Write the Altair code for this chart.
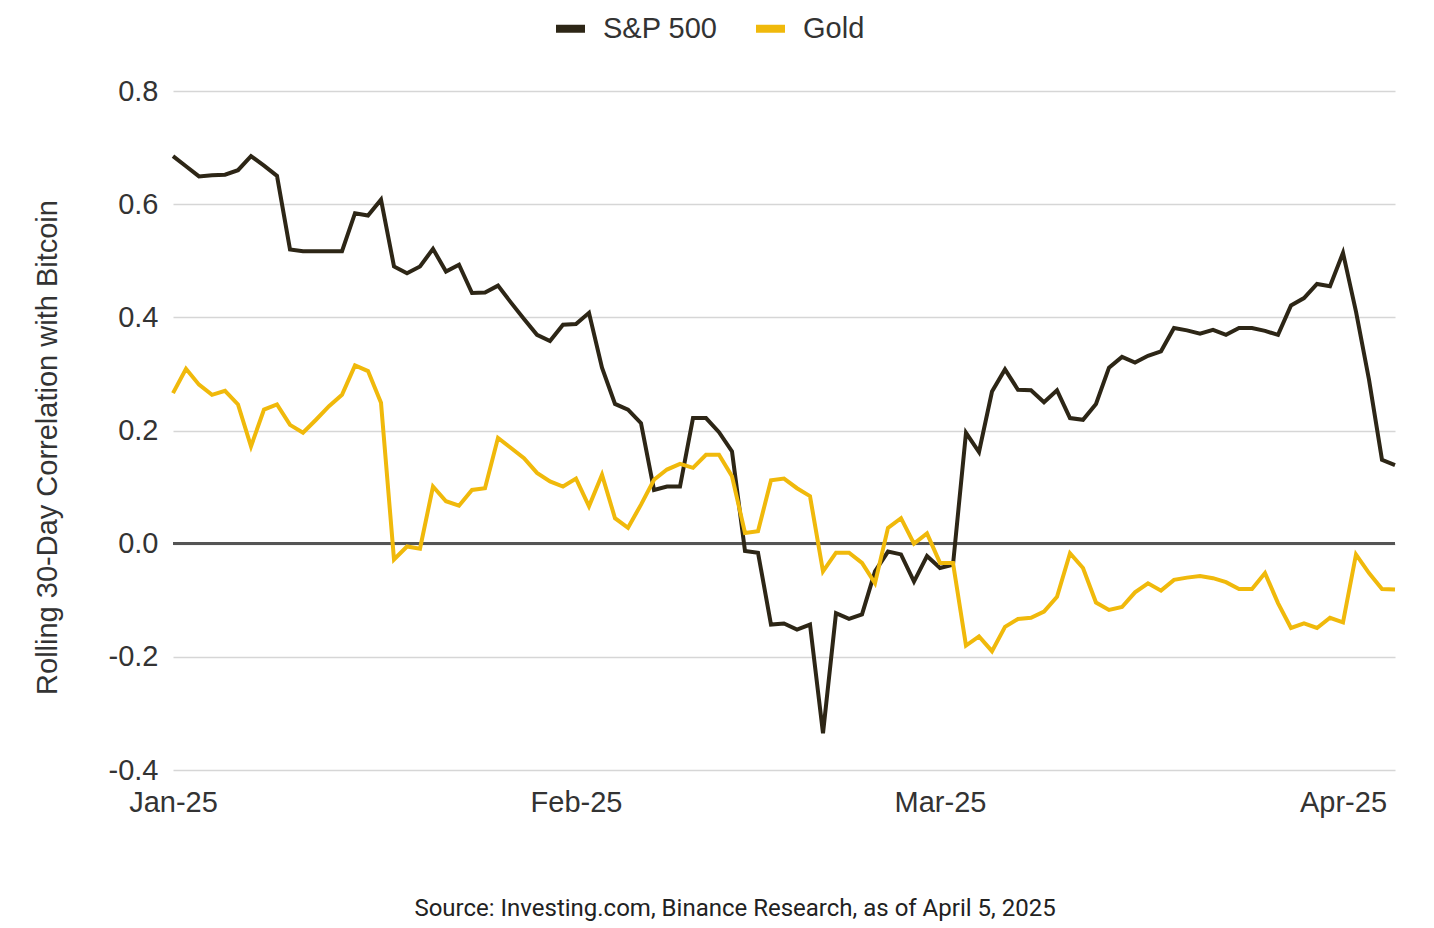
import altair as alt
import pandas as pd

dates = [d.strftime("%Y-%m-%d") for d in pd.date_range("2025-01-01", "2025-04-05", freq="D")]

sp500 = [
    0.685, 0.667, 0.649, 0.651, 0.652, 0.660, 0.685, 0.668, 0.650, 0.520,
    0.517, 0.517, 0.517, 0.517, 0.584, 0.580, 0.608, 0.490, 0.478, 0.490,
    0.521, 0.481, 0.493, 0.443, 0.444, 0.456, 0.426, 0.397, 0.369, 0.358,
    0.387, 0.388, 0.408, 0.311, 0.247, 0.237, 0.213, 0.095, 0.101, 0.101,
    0.222, 0.222, 0.197, 0.163, -0.013, -0.016, -0.143, -0.141, -0.152, -0.143,
    -0.335, -0.123, -0.133, -0.125, -0.049, -0.014, -0.019, -0.067, -0.022, -0.043,
    -0.037, 0.196, 0.162, 0.269, 0.308, 0.272, 0.271, 0.250, 0.271, 0.222,
    0.219, 0.247, 0.311, 0.330, 0.320, 0.332, 0.340, 0.381, 0.377, 0.371,
    0.378, 0.369, 0.381, 0.381, 0.376, 0.369, 0.421, 0.434, 0.459, 0.455,
    0.514, 0.410, 0.290, 0.148, 0.139,
]

gold = [
    0.266, 0.309, 0.281, 0.263, 0.270, 0.246, 0.172, 0.237, 0.246, 0.210,
    0.196, 0.219, 0.243, 0.263, 0.315, 0.305, 0.249, -0.028, -0.005, -0.009,
    0.101, 0.075, 0.067, 0.095, 0.098, 0.187, 0.169, 0.151, 0.125, 0.110,
    0.101, 0.115, 0.066, 0.122, 0.045, 0.028, 0.069, 0.113, 0.131, 0.141,
    0.134, 0.157, 0.157, 0.119, 0.019, 0.022, 0.112, 0.115, 0.098, 0.084,
    -0.049, -0.016, -0.016, -0.034, -0.070, 0.028, 0.045, 0.000, 0.018, -0.034,
    -0.034, -0.180, -0.164, -0.190, -0.147, -0.133, -0.131, -0.120, -0.094, -0.017,
    -0.043, -0.104, -0.117, -0.112, -0.086, -0.070, -0.083, -0.064, -0.060, -0.057,
    -0.061, -0.068, -0.080, -0.080, -0.052, -0.105, -0.149, -0.141, -0.149, -0.131,
    -0.139, -0.019, -0.052, -0.080, -0.081,
]

series_names = ["S&P 500", "Gold"]
series_colors = ["#2d2616", "#f0b90b"]
y_ticks = [-0.4, -0.2, 0.0, 0.2, 0.4, 0.6, 0.8]

df = pd.concat([
    pd.DataFrame({"date": dates, "value": sp500, "series": "S&P 500"}),
    pd.DataFrame({"date": dates, "value": gold, "series": "Gold"}),
])

FONT = "Liberation Sans"
TXT = "#333333"

x_enc = alt.X(
    "date:T",
    scale=alt.Scale(
        type="utc",
        domain=[alt.DateTime(year=2025, month=1, date=1, utc=True),
                alt.DateTime(year=2025, month=4, date=5, utc=True)],
        nice=False,
    ),
    axis=alt.Axis(
        title=None,
        format="%b-%y",
        values=[alt.DateTime(year=2025, month=m, date=1, utc=True) for m in (1, 2, 3, 4)],
        grid=False,
        ticks=False,
        domain=False,
        labelFont=FONT,
        labelFontSize=29,
        labelColor=TXT,
        labelPadding=18,
        labelAlign="center",
    ),
)

y_scale = alt.Scale(domain=[-0.4, 0.8], nice=False, zero=False)

y_axis = alt.Axis(
    title="Rolling 30-Day Correlation with Bitcoin",
    titleFont=FONT,
    titleFontSize=29,
    titleFontWeight="normal",
    titleColor=TXT,
    titleX=-126,
    titleY=356,
    titleAngle=-90,
    titleBaseline="middle",
    titleAlign="center",
    values=y_ticks,
    labelExpr="datum.value < 0 ? '-' + format(-datum.value, '.1f') : format(datum.value, '.1f')",
    labelFont=FONT,
    labelFontSize=29,
    labelColor=TXT,
    labelPadding=15,
    ticks=False,
    domain=False,
    grid=True,
    gridColor="#d6d6d6",
    gridWidth=1.6,
    gridOpacity=1,
)

lines = alt.Chart(df).mark_line(strokeWidth=4, strokeJoin="miter", strokeMiterLimit=4).encode(
    x=x_enc,
    y=alt.Y("value:Q", scale=y_scale, axis=y_axis),
    color=alt.Color(
        "series:N",
        scale=alt.Scale(domain=series_names, range=series_colors),
        legend=alt.Legend(
            title=None,
            orient="none",
            legendX=379,
            legendY=-81,
            direction="horizontal",
            symbolType="stroke",
            symbolSize=841,
            symbolStrokeWidth=8,
            labelFont=FONT,
            labelFontSize=29,
            labelColor=TXT,
            labelOffset=14,
            columnPadding=22,
            padding=0,
        ),
    ),
    order=alt.Order("series:N"),
)

zero_rule = alt.Chart(df).mark_rule(color="#555555", strokeWidth=1.6).encode(
    y=alt.datum(0, scale=y_scale, axis=y_axis)
)

chart = alt.layer(zero_rule, lines).properties(
    width=1222,
    height=679,
    autosize=alt.AutoSizeParams(type="none"),
    padding={"left": 165, "top": 83, "right": 31, "bottom": 156},
    title=alt.TitleParams(
        "Source: Investing.com, Binance Research, as of April 5, 2025",
        orient="bottom",
        anchor="middle",
        font="Roboto",
        fontSize=24,
        fontWeight="normal",
        color="#222222",
        offset=80,
        dx=-49,
    ),
).configure(
    background="white",
    view=alt.ViewConfig(stroke="transparent"),
)

chart.save("out.html", embed_options={"renderer": "svg", "actions": False})
